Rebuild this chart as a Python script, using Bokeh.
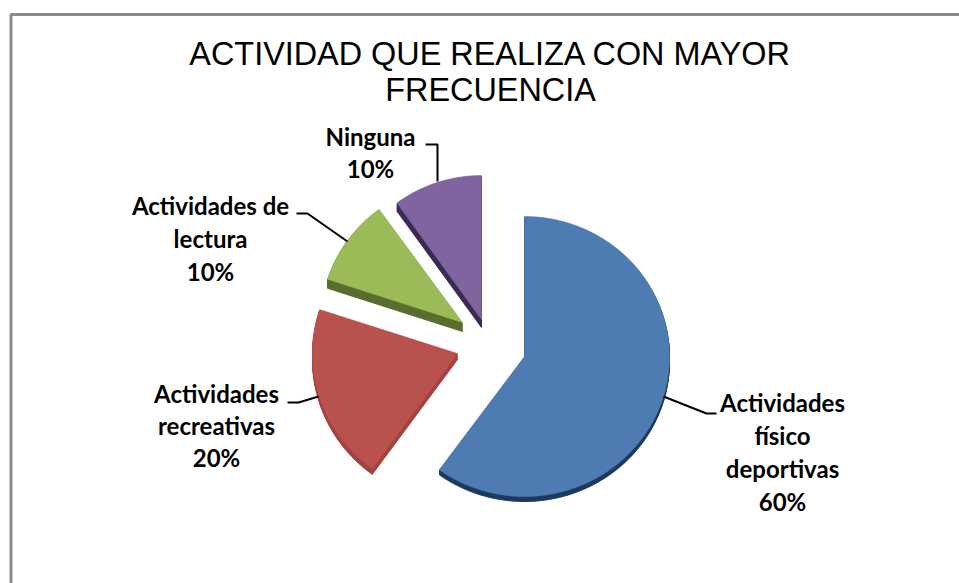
import math
from bokeh.plotting import figure
from bokeh.models import Range1d
from bokeh.core.properties import value
from bokeh.embed import file_html
from bokeh.resources import INLINE

title_lines = ["ACTIVIDAD QUE REALIZA CON MAYOR", "FRECUENCIA"]
categories = ["Actividades físico deportivas", "Actividades recreativas",
              "Actividades de lectura", "Ninguna"]
values = [60, 20, 10, 10]
label_lines = [["Actividades", "físico", "deportivas", "60%"],
               ["Actividades", "recreativas", "20%"],
               ["Actividades de", "lectura", "10%"],
               ["Ninguna", "10%"]]
top_colors = ["#4e7cb2", "#b9524e", "#9bbb59", "#8064a0"]
side_colors = ["#1f3a5f", "#a5423e", "#5a6e30", "#3a2d55"]

# layout, in page pixels
centers = [(524, 356), (457, 353), (462, 322), (481, 319)]
radii = [(145, 140), (145, 142), (142, 140), (144, 144)]
depths = [5, 6, 9, 8]
label_pos = [(782, 402, 33), (216, 393, 32), (210, 205, 33), (370, 136, 32)]
leaders = [([663, 706, 716], [396, 413, 413]),
           ([318, 298, 287], [396, 402, 402]),
           ([347, 307, 296], [241, 213, 213]),
           ([437, 437, 425], [181, 144, 144])]

p = figure(width=959, height=583, output_backend="svg", toolbar_location=None,
           x_range=Range1d(0, 959), y_range=Range1d(583, 0),
           min_border=0, outline_line_color=None, border_fill_color="white",
           background_fill_color="white")
p.xaxis.visible = False
p.yaxis.visible = False
p.grid.visible = False

# frame
p.line([10.5, 10.5, 959], [583, 14, 14], line_color="#8a8a8a", line_width=3)


def slice_pts(cx, cy, rx, ry, a0, a1, dy=0):
    n = max(2, int(a1 - a0))
    xs, ys = [cx], [cy + dy]
    for i in range(n + 1):
        a = math.radians(a0 + (a1 - a0) * i / n)
        xs.append(cx + rx * math.sin(a))
        ys.append(cy - ry * math.cos(a) + dy)
    return xs, ys


total = sum(values)
start = 0.0
for v, c, r, d, top, side in zip(values, centers, radii, depths, top_colors, side_colors):
    end = start + 360.0 * v / total
    for k in range(d, 0, -1):
        xs, ys = slice_pts(c[0], c[1], r[0], r[1], start, end, k)
        p.patch(xs, ys, fill_color=side, line_color=side, line_width=1)
    xs, ys = slice_pts(c[0], c[1], r[0], r[1], start, end)
    p.patch(xs, ys, fill_color=top, line_color=top, line_width=0.5)
    start = end

for xs, ys in leaders:
    p.line(xs, ys, line_color="black", line_width=2)

p.text([490], [53], text=[title_lines[0]], text_font=value("Liberation Sans"),
       text_font_size="32.4px", text_align="center", text_baseline="middle", text_color="black")
p.text([490], [89], text=[title_lines[1]], text_font=value("Liberation Sans"),
       text_font_size="32.4px", text_align="center", text_baseline="middle", text_color="black")

for lines, (x, y0, step) in zip(label_lines, label_pos):
    for i, t in enumerate(lines):
        p.text([x], [y0 + i * step], text=[t], text_font=value("Lato"),
               text_font_size="24px", text_font_style="bold", text_align="center",
               text_baseline="middle", text_color="black")

open("out.html", "w").write(file_html(p, INLINE))
